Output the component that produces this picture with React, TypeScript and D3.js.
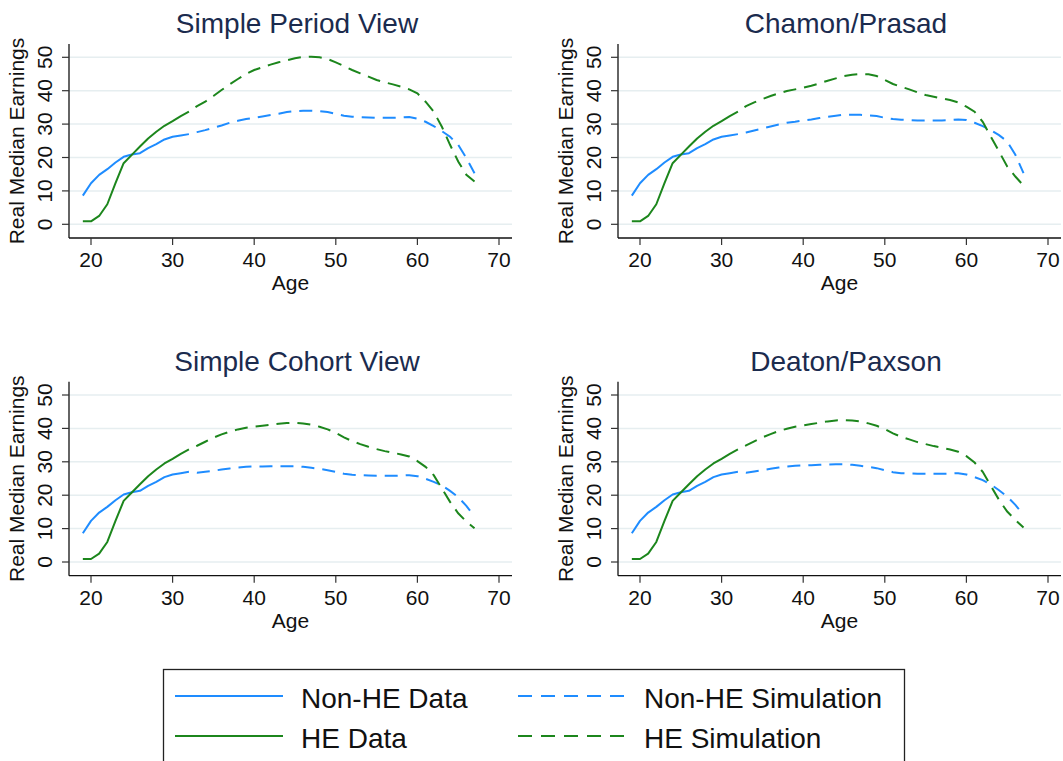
import React from "react";
import * as d3 from "d3";

// ---------- data ----------
const dataAges = [19, 20, 21, 22, 23, 24, 25, 26, 27, 28, 29, 30, 31, 32];
const nonHEData = [8.6, 12.3, 14.8, 16.5, 18.5, 20.2, 20.9, 21.3, 22.8, 24.0, 25.4, 26.2, 26.6, 27.0];
const heData = [0.9, 0.9, 2.5, 6.0, 12.3, 18.3, 20.8, 23.3, 25.7, 27.7, 29.5, 30.9, 32.4, 33.7];

const simAges = [32, 33, 34, 35, 36, 37, 38, 39, 40, 41, 42, 43, 44, 45, 46, 47, 48, 49, 50,
  51, 52, 53, 54, 55, 56, 57, 58, 59, 60, 61, 62, 63, 64, 65, 66, 67];

// Simple Period View
const periodNonHE = [27.0, 27.6, 28.2, 28.9, 29.6, 30.4, 31.0, 31.5, 31.9, 32.3, 32.7, 33.1, 33.6, 33.9, 34.0, 34.0, 33.9, 33.6, 33.1,
  32.5, 32.2, 32.1, 32.0, 31.9, 31.9, 31.9, 32.0, 32.1, 31.6, 30.7, 29.4, 27.9, 26.2, 23.8, 19.8, 15.3];
const periodHE = [33.7, 35.4, 36.7, 38.4, 40.2, 41.9, 43.5, 45.0, 46.2, 47.0, 47.8, 48.5, 49.1, 49.7, 50.1, 50.2, 50.0, 49.5, 48.5,
  47.4, 46.2, 45.2, 44.2, 43.2, 42.5, 41.9, 41.2, 40.4, 39.2, 36.7, 33.7, 29.2, 23.8, 18.8, 14.8, 12.8];
// Chamon/Prasad
const chamonNonHE = [27.0, 27.5, 28.1, 28.7, 29.3, 29.9, 30.4, 30.7, 31.1, 31.4, 31.8, 32.2, 32.5, 32.8, 32.8, 32.8, 32.6, 32.4, 31.9,
  31.5, 31.3, 31.2, 31.1, 31.1, 31.1, 31.1, 31.2, 31.4, 31.2, 30.4, 29.4, 28.2, 26.7, 24.8, 20.8, 15.3];
const chamonHE = [33.7, 35.4, 36.5, 37.5, 38.4, 39.2, 39.9, 40.4, 40.9, 41.5, 42.2, 43.0, 43.7, 44.4, 44.8, 45.0, 44.9, 44.4, 43.2,
  42.0, 41.2, 40.4, 39.5, 38.7, 38.2, 37.7, 37.2, 36.5, 35.2, 33.7, 30.7, 26.2, 21.8, 17.3, 14.3, 11.6];
// Simple Cohort View
const cohortNonHE = [27.0, 26.7, 27.0, 27.3, 27.7, 28.0, 28.3, 28.5, 28.6, 28.6, 28.7, 28.7, 28.7, 28.7, 28.5, 28.2, 27.9, 27.5, 27.0,
  26.4, 26.1, 26.0, 25.9, 25.8, 25.8, 25.8, 25.9, 26.0, 25.7, 24.9, 24.0, 22.9, 21.3, 19.4, 16.8, 13.6];
const cohortHE = [33.7, 34.8, 36.0, 37.2, 38.2, 39.0, 39.7, 40.2, 40.5, 40.8, 41.1, 41.4, 41.6, 41.7, 41.5, 41.1, 40.5, 39.7, 38.7,
  37.3, 36.2, 35.3, 34.5, 33.8, 33.2, 32.7, 32.2, 31.6, 30.2, 28.5, 26.0, 22.0, 18.0, 14.6, 12.1, 10.1];
// Deaton/Paxson
const deatonNonHE = [27.0, 26.7, 27.1, 27.5, 27.9, 28.3, 28.6, 28.8, 28.9, 29.0, 29.1, 29.2, 29.3, 29.3, 29.1, 28.8, 28.5, 28.1, 27.5,
  26.9, 26.6, 26.5, 26.4, 26.4, 26.4, 26.4, 26.5, 26.6, 26.2, 25.4, 24.5, 23.2, 21.5, 19.6, 17.1, 14.1];
const deatonHE = [33.7, 34.9, 36.1, 37.3, 38.3, 39.2, 39.9, 40.5, 40.9, 41.3, 41.7, 42.1, 42.4, 42.5, 42.4, 42.1, 41.5, 40.8, 39.8,
  38.5, 37.5, 36.7, 35.9, 35.3, 34.7, 34.2, 33.7, 33.0, 31.7, 29.8, 27.0, 22.8, 18.6, 15.1, 12.6, 10.3];

const panelTitles = ["Simple Period View", "Chamon/Prasad", "Simple Cohort View", "Deaton/Paxson"];
const panelNonHESim = [periodNonHE, chamonNonHE, cohortNonHE, deatonNonHE];
const panelHESim = [periodHE, chamonHE, cohortHE, deatonHE];

const yTicks = [0, 10, 20, 30, 40, 50];
const xTicks = [20, 30, 40, 50, 60, 70];
const legendLabels = ["Non-HE Data", "Non-HE Simulation", "HE Data", "HE Simulation"];

// ---------- style ----------
const BLUE = "#1e8cff";
const GREEN = "#1c861c";
const TITLE = "#1b2b4e";
const FONT = "'Liberation Sans', Arial, Helvetica, sans-serif";
const DASH = "13,8";

const W = 1063;
const H = 761;
const panelOffsets = [
  [0, 0],
  [549, 0],
  [0, 337.7],
  [549, 337.7],
];

// panel geometry (panel-local)
const axisX = 69;
const plotRight = 512;
const plotTop = 44;
const axisY = 238;

const x = d3.scaleLinear().domain([20, 70]).range([91, 499]);
const y = d3.scaleLinear().domain([0, 50]).range([224.3, 57.3]);

type Pt = [number, number];
const line = d3
  .line<Pt>()
  .x((d) => x(d[0]))
  .y((d) => y(d[1]));

const zip = (a: number[], b: number[]): Pt[] => a.map((v, i) => [v, b[i]] as Pt);

function Panel({ idx }: { idx: number }) {
  const [ox, oy] = panelOffsets[idx];
  return (
    <g transform={`translate(${ox},${oy})`}>
      <text x={297} y={33} textAnchor="middle" fontSize={28} fill={TITLE} fontFamily={FONT}>
        {panelTitles[idx]}
      </text>
      {yTicks.map((t) => (
        <line key={"g" + t} x1={axisX} x2={plotRight} y1={y(t)} y2={y(t)} stroke="#e6eef0" strokeWidth={1.5} />
      ))}
      {/* axes */}
      <line x1={axisX} x2={axisX} y1={plotTop} y2={axisY} stroke="#111" strokeWidth={1.3} />
      <line x1={axisX} x2={plotRight} y1={axisY} y2={axisY} stroke="#111" strokeWidth={1.3} />
      {yTicks.map((t) => (
        <g key={"y" + t}>
          <line x1={axisX - 7} x2={axisX} y1={y(t)} y2={y(t)} stroke="#333" strokeWidth={1.2} />
          <text
            transform={`translate(52,${y(t)}) rotate(-90)`}
            textAnchor="middle"
            fontSize={21}
            fontFamily={FONT}
            fill="#111"
          >
            {t}
          </text>
        </g>
      ))}
      {xTicks.map((t) => (
        <g key={"x" + t}>
          <line x1={x(t)} x2={x(t)} y1={axisY} y2={axisY + 7} stroke="#333" strokeWidth={1.2} />
          <text x={x(t)} y={267} textAnchor="middle" fontSize={21} fontFamily={FONT} fill="#111">
            {t}
          </text>
        </g>
      ))}
      <text x={290.5} y={290} textAnchor="middle" fontSize={21} fontFamily={FONT} fill="#111">
        Age
      </text>
      <text
        transform={`translate(24,141) rotate(-90)`}
        textAnchor="middle"
        fontSize={21}
        fontFamily={FONT}
        fill="#111"
      >
        Real Median Earnings
      </text>
      {/* series */}
      <path d={line(zip(dataAges, nonHEData)) || ""} fill="none" stroke={BLUE} strokeWidth={2} strokeLinejoin="round" />
      <path d={line(zip(dataAges, heData)) || ""} fill="none" stroke={GREEN} strokeWidth={2} strokeLinejoin="round" />
      <path
        d={line(zip(simAges, panelNonHESim[idx])) || ""}
        fill="none"
        stroke={BLUE}
        strokeWidth={2}
        strokeDasharray={DASH}
        strokeDashoffset={13}
      />
      <path
        d={line(zip(simAges, panelHESim[idx])) || ""}
        fill="none"
        stroke={GREEN}
        strokeWidth={2}
        strokeDasharray={DASH}
        strokeDashoffset={13}
      />
    </g>
  );
}

function Legend() {
  const cols = [
    { x1: 175, x2: 283, tx: 301 },
    { x1: 518, x2: 626, tx: 644 },
  ];
  const rows = [{ ly: 696, ty: 708 }, { ly: 736, ty: 748 }];
  const items = [
    { label: legendLabels[0], color: BLUE, dash: undefined, c: 0, r: 0 },
    { label: legendLabels[1], color: BLUE, dash: "14,9", c: 1, r: 0 },
    { label: legendLabels[2], color: GREEN, dash: undefined, c: 0, r: 1 },
    { label: legendLabels[3], color: GREEN, dash: "14,9", c: 1, r: 1 },
  ];
  return (
    <g>
      <rect x={163.5} y={669.5} width={741} height={130} fill="#fff" stroke="#222" strokeWidth={1.3} />
      {items.map((it) => (
        <g key={it.label}>
          <line
            x1={cols[it.c].x1}
            x2={cols[it.c].x2}
            y1={rows[it.r].ly}
            y2={rows[it.r].ly}
            stroke={it.color}
            strokeWidth={2}
            strokeDasharray={it.dash}
          />
          <text x={cols[it.c].tx} y={rows[it.r].ty} fontSize={28} fontFamily={FONT} fill="#111">
            {it.label}
          </text>
        </g>
      ))}
    </g>
  );
}

export default function App() {
  return (
    <svg
      width={W}
      height={H}
      viewBox={`0 0 ${W} ${H}`}
      style={{ position: "absolute", left: 0, top: 0, background: "#fff" }}
    >
      <rect x={0} y={0} width={W} height={H} fill="#fff" />
      {[0, 1, 2, 3].map((i) => (
        <Panel key={i} idx={i} />
      ))}
      <Legend />
    </svg>
  );
}
